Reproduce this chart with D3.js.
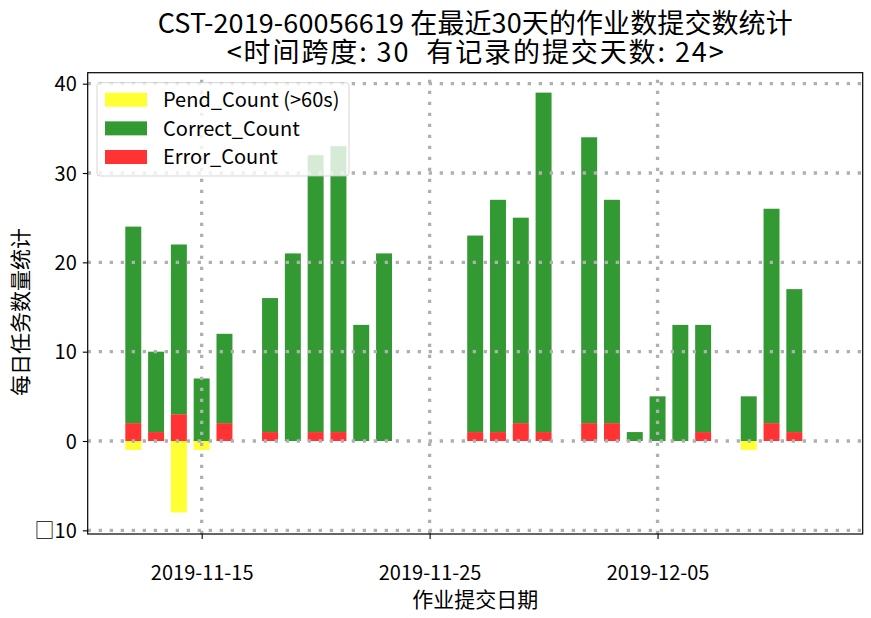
<!DOCTYPE html>
<html>
<head>
<meta charset="utf-8">
<script src="https://cdn.jsdelivr.net/npm/d3@7"></script>
<style>
  html, body { margin: 0; padding: 0; background: #fff; }
  svg { display: block; }
  text { font-family: "Noto Sans CJK SC", "Noto Sans", sans-serif; fill: #000; }
</style>
</head>
<body>
<svg id="chart" width="871" height="618"></svg>
<script>
// ---- data ----
const dates = ["2019-11-12","2019-11-13","2019-11-14","2019-11-15","2019-11-16",
  "2019-11-18","2019-11-19","2019-11-20","2019-11-21","2019-11-22","2019-11-23",
  "2019-11-27","2019-11-28","2019-11-29","2019-11-30",
  "2019-12-02","2019-12-03","2019-12-04","2019-12-05","2019-12-06","2019-12-07",
  "2019-12-09","2019-12-10","2019-12-11"];
const errorCount   = [2,1,3,0,2, 1,0,1,1,0,0, 1,1,2,1, 2,2,0,0,0,1, 0,2,1];
const correctCount = [22,9,19,7,10, 15,21,31,32,13,21, 22,26,23,38, 32,25,1,5,13,12, 5,24,16];
const pendCount    = [1,0,8,1,0, 0,0,0,0,0,0, 0,0,0,0, 0,0,0,0,0,0, 1,0,0];
const xTickDates = ["2019-11-15","2019-11-25","2019-12-05"];
const yTicks = [-10, 0, 10, 20, 30, 40];
const xDomainDates = ["2019-11-10","2019-12-14"];
const yDomain = [-10.41, 41.23];
const titleLine1 = "CST-2019-60056619 在最近30天的作业数提交数统计";
const titleLine2 = "<时间跨度: 30  有记录的提交天数: 24>";
const xLabel = "作业提交日期";
const yLabel = "每日任务数量统计";
const legendLabels = ["Pend_Count (>60s)", "Correct_Count", "Error_Count"];
const colors = { pend: "#ffff33", correct: "#339933", error: "#ff3333" };

// ---- layout ----
const L = 87.7, R = 862.7, T = 72.7, B = 534;
const parse = d3.timeParse("%Y-%m-%d");
const svg = d3.select("#chart");

const x = d3.scaleTime().domain(xDomainDates.map(parse)).range([L, R]);
const y = d3.scaleLinear().domain(yDomain).range([B, T]);
const DAY = 864e5;
const half = 0.35 * DAY;

const rows = dates.map((d, i) => ({
  date: parse(d), err: errorCount[i], cor: correctCount[i], pend: pendCount[i]
}));

const plot = svg.append("g");
function bx(d) { return x(new Date(+d.date - half)); }
function bw(d) { return x(new Date(+d.date + half)) - x(new Date(+d.date - half)); }

plot.selectAll("rect.pend").data(rows.filter(r => r.pend > 0)).join("rect")
  .attr("x", bx).attr("width", bw)
  .attr("y", y(0)).attr("height", d => y(-d.pend) - y(0))
  .attr("fill", colors.pend);
plot.selectAll("rect.err").data(rows.filter(r => r.err > 0)).join("rect")
  .attr("x", bx).attr("width", bw)
  .attr("y", d => y(d.err)).attr("height", d => y(0) - y(d.err))
  .attr("fill", colors.error);
plot.selectAll("rect.cor").data(rows).join("rect")
  .attr("x", bx).attr("width", bw)
  .attr("y", d => y(d.err + d.cor)).attr("height", d => y(d.err) - y(d.err + d.cor))
  .attr("fill", colors.correct);

// grid
const grid = svg.append("g").attr("stroke", "#b0b0b0").attr("stroke-width", 3.3)
  .attr("stroke-dasharray", "3.3 7.7").attr("fill", "none");
yTicks.forEach(t => {
  grid.append("line").attr("x1", L).attr("x2", R).attr("y1", y(t)).attr("y2", y(t));
});
xTickDates.forEach(t => {
  const xx = x(parse(t));
  grid.append("line").attr("x1", xx).attr("x2", xx).attr("y1", B).attr("y2", T);
});

// axes
const xAxis = d3.axisBottom(x).tickValues(xTickDates.map(parse))
  .tickFormat(d3.timeFormat("%Y-%m-%d")).tickSize(4.9).tickPadding(27);
const gx = svg.append("g").attr("transform", `translate(0,${B})`).call(xAxis);
gx.select(".domain").remove();
gx.selectAll(".tick line").attr("stroke", "#000").attr("stroke-width", 1.1);
gx.selectAll(".tick text").attr("font-size", 20).attr("font-family", null).attr("dy", null)
  .attr("y", 46);

const yAxis = d3.axisLeft(y).tickValues(yTicks)
  .tickFormat(d => d < 0 ? "□" + Math.abs(d) : String(d)).tickSize(4.9).tickPadding(6);
const gy = svg.append("g").attr("transform", `translate(${L},0)`).call(yAxis);
gy.select(".domain").remove();
gy.selectAll(".tick line").attr("stroke", "#000").attr("stroke-width", 1.1);
gy.selectAll(".tick text").attr("font-size", 20).attr("font-family", null)
  .attr("dy", "0.36em");

// frame
svg.append("rect").attr("x", L).attr("y", T).attr("width", R - L).attr("height", B - T)
  .attr("fill", "none").attr("stroke", "#000").attr("stroke-width", 1.2);

// title (one text element, two lines)
const title = svg.append("text").attr("text-anchor", "middle").attr("font-size", 27)
  .style("white-space", "pre");
title.append("tspan").attr("x", (L + R) / 2).attr("y", 32.5)
  .attr("textLength", 635).attr("lengthAdjust", "spacing").text(titleLine1);
title.append("tspan").attr("x", (L + R) / 2).attr("y", 61.5)
  .attr("textLength", 497).attr("lengthAdjust", "spacing").text(titleLine2);

svg.append("text").attr("x", (L + R) / 2).attr("y", 606.5).attr("text-anchor", "middle")
  .attr("font-size", 21).text(xLabel);
svg.append("text").attr("transform", "translate(28,312) rotate(-90)")
  .attr("text-anchor", "middle").attr("font-size", 21).text(yLabel);

// legend
const lg = svg.append("g");
lg.append("rect").attr("x", 97).attr("y", 82.7).attr("width", 252).attr("height", 93.3)
  .attr("rx", 3).attr("fill", "#fff").attr("fill-opacity", 0.8)
  .attr("stroke", "#cccccc").attr("stroke-opacity", 0.8).attr("stroke-width", 1);
const legendColors = [colors.pend, colors.correct, colors.error];
legendLabels.forEach((lab, i) => {
  const cy = 99.7 + i * 28.65;
  lg.append("rect").attr("x", 105).attr("y", cy - 7).attr("width", 42).attr("height", 14)
    .attr("fill", legendColors[i]);
  lg.append("text").attr("x", 163).attr("y", cy + 7.3).attr("font-size", 20)
    .style("white-space", "pre").text(lab);
});
</script>
</body>
</html>
